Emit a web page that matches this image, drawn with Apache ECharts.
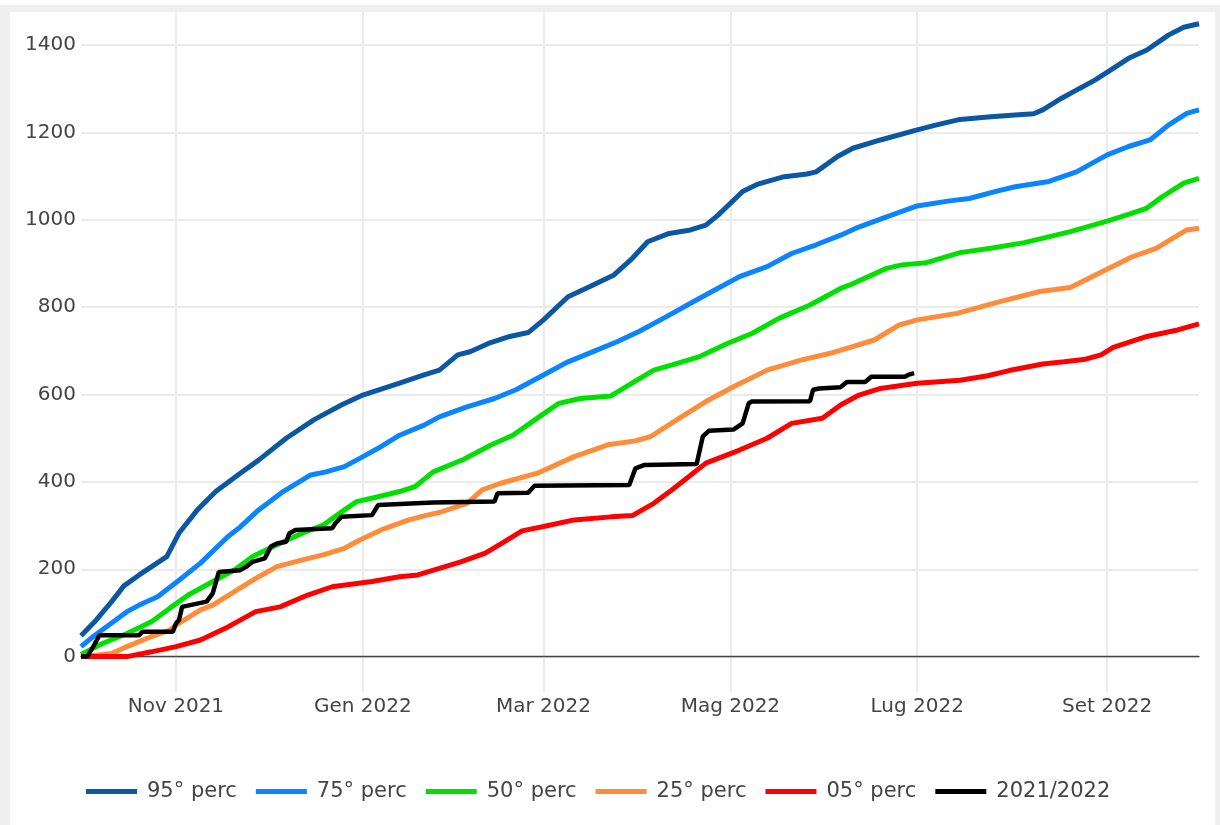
<!DOCTYPE html>
<html>
<head>
<meta charset="utf-8">
<script src="https://cdn.jsdelivr.net/npm/echarts@6/dist/echarts.min.js"></script>
<style>
  html, body { margin: 0; padding: 0; background: #ffffff; width: 1220px; height: 825px; overflow: hidden; }
  #frame { position: absolute; left: 0; top: 5px; width: 1220px; height: 820px; background: #efefef; }
  #chart { position: absolute; left: 10px; top: 12px; width: 1205px; height: 813px; background: #ffffff; }
</style>
</head>
<body>
<div id="frame"></div>
<div id="chart"></div>
<script>
// ---- Tick labels ----
const xTickDates = ['2021-11-01', '2022-01-01', '2022-03-01', '2022-05-01', '2022-07-01', '2022-09-01'];
const xTickLabels = ['Nov 2021', 'Gen 2022', 'Mar 2022', 'Mag 2022', 'Lug 2022', 'Set 2022'];
const yTicks = [0, 200, 400, 600, 800, 1000, 1200, 1400];

const seriesNames = ['95° perc', '75° perc', '50° perc', '25° perc', '05° perc', '2021/2022'];

// ---- Series values ----
const p95Dates = ['2021-10-01','2021-10-06','2021-10-11','2021-10-15','2021-10-20','2021-10-29','2021-11-02','2021-11-08','2021-11-14','2021-11-22','2021-11-28','2021-12-07','2021-12-16','2021-12-25','2022-01-01','2022-01-13','2022-01-21','2022-01-26','2022-02-01','2022-02-05','2022-02-11','2022-02-18','2022-02-24','2022-03-01','2022-03-09','2022-03-16','2022-03-24','2022-03-30','2022-04-04','2022-04-11','2022-04-18','2022-04-23','2022-04-27','2022-05-05','2022-05-10','2022-05-18','2022-05-26','2022-05-29','2022-06-05','2022-06-10','2022-06-19','2022-07-01','2022-07-07','2022-07-15','2022-07-25','2022-08-02','2022-08-08','2022-08-11','2022-08-17','2022-08-23','2022-08-28','2022-09-03','2022-09-08','2022-09-14','2022-09-21','2022-09-26','2022-10-01'];
const p95Values = [48,84,126,162,187,229,283,336,378,420,450,500,542,576,599,626,645,656,691,698,717,733,742,771,824,847,874,912,950,969,977,988,1011,1065,1082,1098,1105,1110,1145,1164,1183,1206,1217,1230,1236,1240,1243,1252,1278,1301,1320,1347,1370,1389,1423,1441,1449];

const p75Dates = ['2021-10-01','2021-10-05','2021-10-11','2021-10-16','2021-10-20','2021-10-26','2021-11-02','2021-11-09','2021-11-18','2021-11-22','2021-11-28','2021-12-06','2021-12-15','2021-12-20','2021-12-26','2021-12-31','2022-01-06','2022-01-13','2022-01-21','2022-01-26','2022-02-04','2022-02-13','2022-02-20','2022-03-01','2022-03-09','2022-03-16','2022-03-25','2022-04-01','2022-04-10','2022-04-18','2022-04-25','2022-05-04','2022-05-13','2022-05-21','2022-05-29','2022-06-06','2022-06-11','2022-06-21','2022-07-01','2022-07-11','2022-07-18','2022-07-27','2022-08-02','2022-08-13','2022-08-22','2022-09-01','2022-09-08','2022-09-15','2022-09-21','2022-09-27','2022-10-01'];
const p75Values = [23,46,77,103,118,137,175,214,275,297,336,378,416,423,435,454,477,507,530,549,572,591,611,645,675,695,721,744,778,809,836,870,893,923,943,965,981,1007,1032,1043,1049,1066,1076,1088,1110,1149,1168,1183,1217,1244,1252];

const p50Dates = ['2021-10-01','2021-10-08','2021-10-16','2021-10-24','2021-10-30','2021-11-05','2021-11-12','2021-11-20','2021-11-26','2021-12-04','2021-12-12','2021-12-19','2021-12-26','2021-12-30','2022-01-06','2022-01-13','2022-01-18','2022-01-24','2022-02-03','2022-02-12','2022-02-19','2022-02-27','2022-03-06','2022-03-13','2022-03-23','2022-03-28','2022-04-06','2022-04-12','2022-04-21','2022-04-30','2022-05-08','2022-05-17','2022-05-27','2022-06-06','2022-06-09','2022-06-21','2022-06-26','2022-07-04','2022-07-15','2022-07-25','2022-08-05','2022-08-20','2022-09-01','2022-09-09','2022-09-14','2022-09-19','2022-09-26','2022-10-01'];
const p50Values = [5,30,53,80,111,141,168,198,229,256,282,301,336,355,366,378,389,423,452,485,507,546,580,591,597,618,656,668,687,717,740,775,805,843,851,889,897,902,925,935,948,973,997,1015,1027,1053,1084,1095];

const p25Dates = ['2021-10-01','2021-10-11','2021-10-16','2021-10-24','2021-10-30','2021-11-01','2021-11-09','2021-11-13','2021-11-21','2021-11-28','2021-12-04','2021-12-12','2021-12-19','2021-12-26','2021-12-31','2022-01-07','2022-01-16','2022-01-22','2022-01-26','2022-02-04','2022-02-09','2022-02-15','2022-02-27','2022-03-11','2022-03-22','2022-03-31','2022-04-05','2022-04-15','2022-04-23','2022-05-02','2022-05-13','2022-05-24','2022-06-04','2022-06-17','2022-06-25','2022-07-01','2022-07-14','2022-07-28','2022-08-10','2022-08-20','2022-08-30','2022-09-09','2022-09-17','2022-09-27','2022-10-01'];
const p25Values = [0,7,23,46,61,72,107,118,153,183,206,221,233,248,267,290,313,324,330,351,382,397,420,458,485,494,504,549,584,618,656,679,697,725,759,771,786,813,836,845,880,915,935,977,981];

const p05Dates = ['2021-10-01','2021-10-16','2021-10-24','2021-11-01','2021-11-09','2021-11-18','2021-11-27','2021-12-05','2021-12-14','2021-12-22','2022-01-04','2022-01-13','2022-01-19','2022-02-02','2022-02-10','2022-02-16','2022-02-22','2022-03-01','2022-03-11','2022-03-23','2022-03-30','2022-04-06','2022-04-12','2022-04-23','2022-05-04','2022-05-13','2022-05-21','2022-05-31','2022-06-06','2022-06-12','2022-06-19','2022-07-01','2022-07-15','2022-07-24','2022-07-31','2022-08-11','2022-08-18','2022-08-25','2022-08-30','2022-09-03','2022-09-14','2022-09-24','2022-10-01'];
const p05Values = [0,0,11,23,38,68,103,114,141,160,172,183,187,217,237,262,288,298,313,320,323,351,382,443,473,500,534,546,576,599,614,626,633,643,655,670,675,681,691,708,733,748,762];

const obsDates = ['2021-10-01','2021-10-03','2021-10-05','2021-10-07','2021-10-20','2021-10-21','2021-10-31','2021-11-01','2021-11-02','2021-11-03','2021-11-11','2021-11-13','2021-11-15','2021-11-22','2021-11-24','2021-11-26','2021-11-30','2021-12-02','2021-12-04','2021-12-07','2021-12-08','2021-12-10','2021-12-22','2021-12-23','2021-12-25','2022-01-04','2022-01-06','2022-01-24','2022-02-13','2022-02-14','2022-02-24','2022-02-26','2022-03-29','2022-03-31','2022-04-03','2022-04-20','2022-04-22','2022-04-24','2022-05-02','2022-05-05','2022-05-07','2022-05-08','2022-05-27','2022-05-28','2022-05-30','2022-06-06','2022-06-08','2022-06-14','2022-06-16','2022-06-27','2022-06-28','2022-06-30'];
const obsValues = [0,0,23,49,49,57,57,76,84,114,126,145,194,198,206,217,225,252,259,263,282,290,294,305,320,324,347,353,355,374,375,391,393,431,439,441,504,517,520,534,580,584,585,611,614,617,629,629,641,641,645,649];

// ---- Build chart ----
const parse = s => echarts.number.parseDate(s).getTime();
const zip = (ds, vs) => ds.map((d, i) => [parse(d), vs[i]]);
const xTickValues = xTickDates.map(parse);
const xMin = parse('2021-10-01');
const xMax = parse('2022-10-01');

const colors = ['#0b57a4', '#0a84ff', '#00e000', '#ff8c3a', '#ff0000', '#000000'];
const dataSets = [
  zip(p95Dates, p95Values),
  zip(p75Dates, p75Values),
  zip(p50Dates, p50Values),
  zip(p25Dates, p25Values),
  zip(p05Dates, p05Values),
  zip(obsDates, obsValues)
];

const font = 'DejaVu Sans';
const chart = echarts.init(document.getElementById('chart'), null, { renderer: 'canvas' });

const option = {
  animation: false,
  textStyle: { fontFamily: font },
  grid: { left: 71, right: 16, top: 0, bottom: 133, containLabel: false },
  xAxis: [
    {
      type: 'value',
      min: xMin,
      max: xMax,
      position: 'bottom',
      axisLine: { show: false, onZero: false },
      axisTick: { show: false, customValues: xTickValues },
      axisLabel: {
        customValues: xTickValues,
        fontSize: 20,
        fontFamily: font,
        color: '#444',
        margin: 5,
        formatter: function (v) {
          const i = xTickValues.indexOf(v);
          return i >= 0 ? xTickLabels[i] : '';
        }
      },
      splitLine: { show: true, lineStyle: { color: '#ebebeb', width: 2 } }
    },
    {
      type: 'value',
      min: xMin,
      max: xMax,
      position: 'bottom',
      axisLine: { show: true, onZero: true, lineStyle: { color: '#444', width: 1.3 } },
      axisTick: { show: false },
      axisLabel: { show: false },
      splitLine: { show: false }
    }
  ],
  yAxis: {
    type: 'value',
    min: -81,
    max: 1476,
    axisLine: { show: false },
    axisTick: { show: false, customValues: yTicks },
    axisLabel: {
      customValues: yTicks,
      fontSize: 20,
      fontFamily: font,
      color: '#444',
      margin: 5,
      formatter: v => String(v)
    },
    splitLine: { show: true, lineStyle: { color: '#ebebeb', width: 2 } }
  },
  legend: {
    left: 76,
    top: 769,
    padding: 0,
    icon: 'rect',
    itemWidth: 51,
    itemHeight: 5,
    itemGap: 19,
    textStyle: { fontSize: 21, fontFamily: font, color: '#444', padding: [0, 0, 0, 5] },
    data: seriesNames
  },
  series: seriesNames.map((name, i) => ({
    name: name,
    type: 'line',
    xAxisIndex: 0,
    data: dataSets[i],
    showSymbol: false,
    symbol: 'none',
    color: colors[i],
    lineStyle: { color: colors[i], width: i === 5 ? 4.5 : 5 },
    emphasis: { disabled: true },
    z: 2 + i
  }))
};
chart.setOption(option);
</script>
</body>
</html>
